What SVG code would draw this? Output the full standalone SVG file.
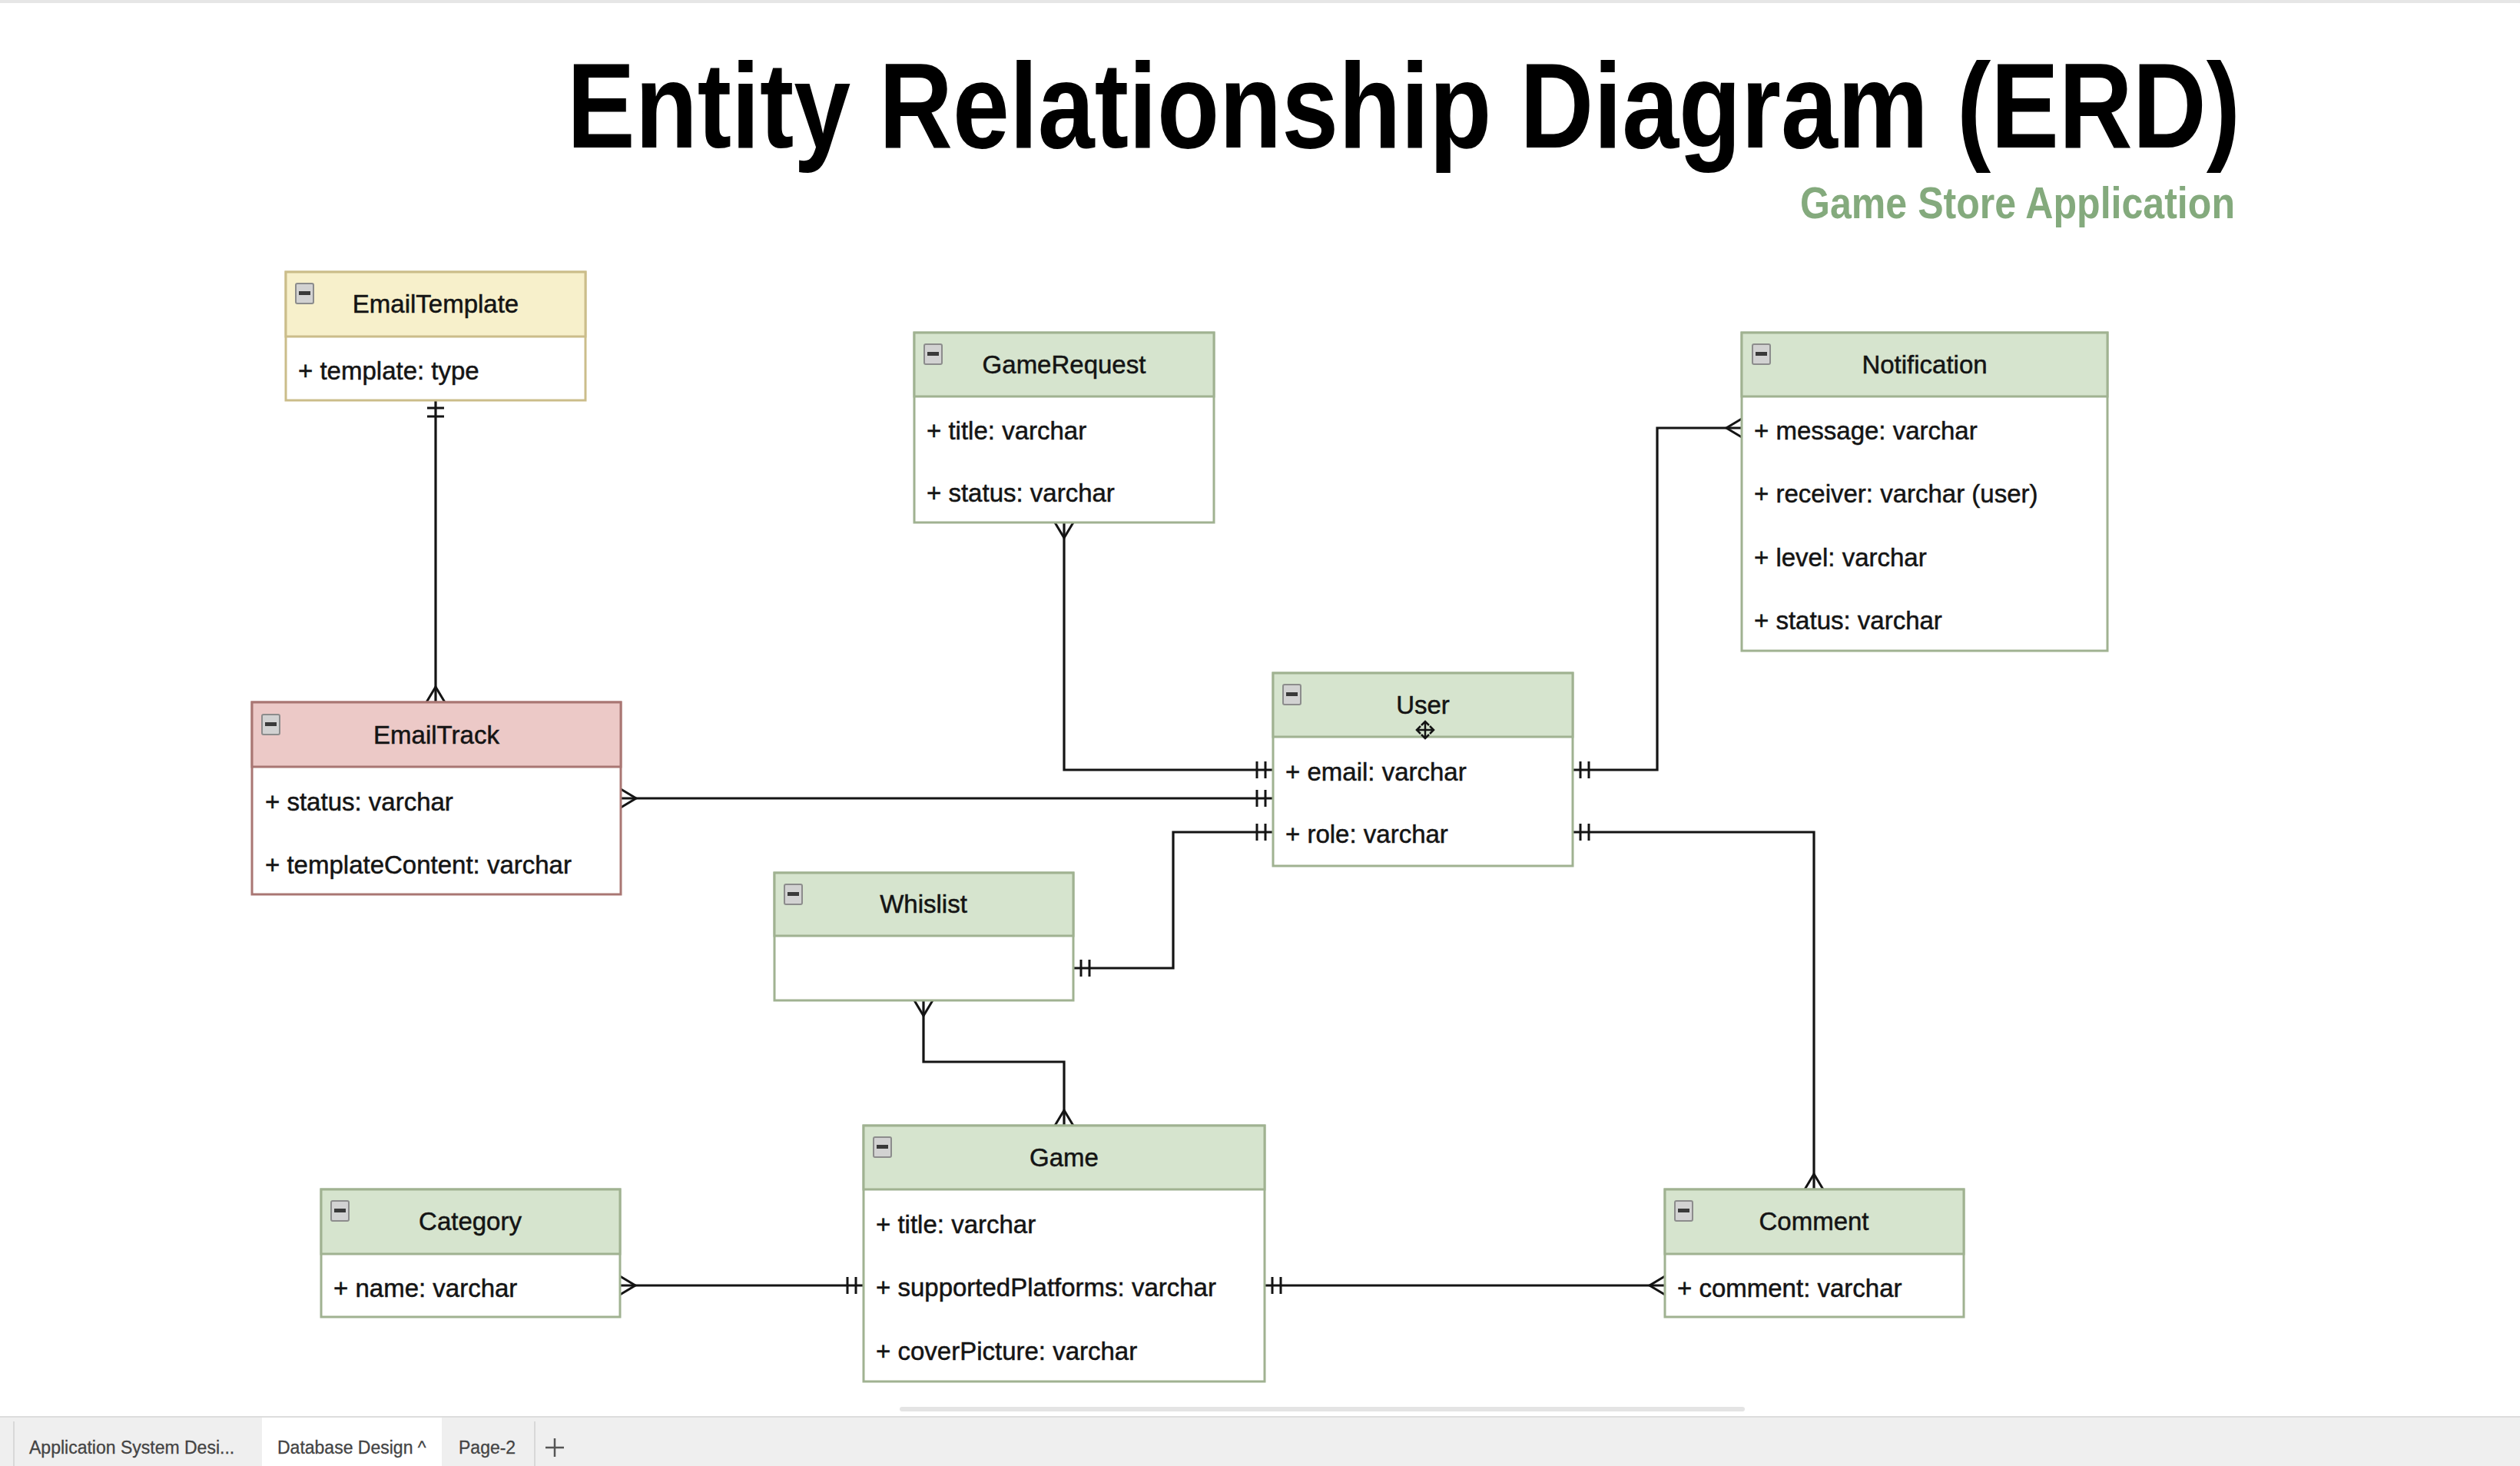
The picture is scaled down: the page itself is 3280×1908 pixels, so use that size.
<svg xmlns="http://www.w3.org/2000/svg" width="3280" height="1908" viewBox="0 0 3280 1908">
<style>
.t{font-family:"Liberation Sans",Arial,sans-serif;font-size:33px;fill:#141414;stroke:#141414;stroke-width:0.5}
.c{text-anchor:middle}
.body{fill:#ffffff;stroke-width:3}
.g{stroke:#a0b291}
.gh{fill:#d6e4ce;stroke:#a0b291;stroke-width:3}
.r{stroke:#a97673}
.rh{fill:#ecc9c7;stroke:#a97673;stroke-width:3}
.y{stroke:#cbbd8a}
.yh{fill:#f7f0cb;stroke:#cbbd8a;stroke-width:3}
.ic{fill:#d2d2d2;stroke:#8c8c8c;stroke-width:2}
.icb{fill:#3a3a3a}
.conn{fill:none;stroke:#141414;stroke-width:3.2}
.tab{font-family:"Liberation Sans",Arial,sans-serif;font-size:23px;fill:#444;stroke:#444;stroke-width:0.3}
</style>
<defs>
<marker id="one" markerUnits="userSpaceOnUse" viewBox="-30 -20 40 40" markerWidth="40" markerHeight="40" refX="0" refY="0" orient="auto-start-reverse">
<path d="M-10,-11 V11 M-21,-11 V11" fill="none" stroke="#141414" stroke-width="3"/>
</marker>
<marker id="many" markerUnits="userSpaceOnUse" viewBox="-30 -20 40 40" markerWidth="40" markerHeight="40" refX="0" refY="0" orient="auto-start-reverse">
<path d="M0,-12 L-20,0 L0,12" fill="none" stroke="#141414" stroke-width="3"/>
</marker>
</defs>
<rect x="0" y="0" width="3280" height="1908" fill="#ffffff"/>
<rect x="0" y="0" width="3280" height="4" fill="#e6e6e6"/>

<text x="738" y="192" style="font-family:'Liberation Sans',Arial,sans-serif;font-size:158px;font-weight:bold;fill:#000" textLength="2178" lengthAdjust="spacingAndGlyphs">Entity Relationship Diagram (ERD)</text>
<text x="2343" y="284" style="font-family:'Liberation Sans',Arial,sans-serif;font-size:58px;font-weight:bold;fill:#84aa7d" textLength="566" lengthAdjust="spacingAndGlyphs">Game Store Application</text>

<g id="connectors">
<path class="conn" d="M567,521 V914" marker-start="url(#one)" marker-end="url(#many)"/>
<path class="conn" d="M808,1039 H1657" marker-start="url(#many)" marker-end="url(#one)"/>
<path class="conn" d="M1385,680 V1002 H1657" marker-start="url(#many)" marker-end="url(#one)"/>
<path class="conn" d="M2047,1002 H2157 V557 H2267" marker-start="url(#one)" marker-end="url(#many)"/>
<path class="conn" d="M2047,1083 H2361 V1548" marker-start="url(#one)" marker-end="url(#many)"/>
<path class="conn" d="M1397,1260 H1527 V1083 H1657" marker-start="url(#one)" marker-end="url(#one)"/>
<path class="conn" d="M1202,1302 V1382 H1385 V1465" marker-start="url(#many)" marker-end="url(#many)"/>
<path class="conn" d="M807,1673 H1124" marker-start="url(#many)" marker-end="url(#one)"/>
<path class="conn" d="M1646,1673 H2167" marker-start="url(#one)" marker-end="url(#many)"/>
</g>

<g id="EmailTemplate">
<rect class="body y" x="372" y="354" width="390" height="167"/>
<rect class="yh" x="372" y="354" width="390" height="84"/>
<rect class="ic" x="385" y="369" width="23" height="26" rx="2"/><rect class="icb" x="389" y="379" width="15" height="5"/>
<text class="t c" x="567" y="407">EmailTemplate</text>
<text class="t" x="388" y="494">+ template: type</text>
</g>

<g id="GameRequest">
<rect class="body g" x="1190" y="433" width="390" height="247"/>
<rect class="gh" x="1190" y="433" width="390" height="83"/>
<rect class="ic" x="1203" y="448" width="23" height="26" rx="2"/><rect class="icb" x="1207" y="458" width="15" height="5"/>
<text class="t c" x="1385" y="486">GameRequest</text>
<text class="t" x="1206" y="572">+ title: varchar</text>
<text class="t" x="1206" y="653">+ status: varchar</text>
</g>

<g id="Notification">
<rect class="body g" x="2267" y="433" width="476" height="414"/>
<rect class="gh" x="2267" y="433" width="476" height="83"/>
<rect class="ic" x="2281" y="448" width="23" height="26" rx="2"/><rect class="icb" x="2285" y="458" width="15" height="5"/>
<text class="t c" x="2505" y="486">Notification</text>
<text class="t" x="2283" y="572">+ message: varchar</text>
<text class="t" x="2283" y="654">+ receiver: varchar (user)</text>
<text class="t" x="2283" y="737">+ level: varchar</text>
<text class="t" x="2283" y="819">+ status: varchar</text>
</g>

<g id="User">
<rect class="body g" x="1657" y="876" width="390" height="251"/>
<rect class="gh" x="1657" y="876" width="390" height="83"/>
<rect class="ic" x="1670" y="891" width="23" height="26" rx="2"/><rect class="icb" x="1674" y="901" width="15" height="5"/>
<text class="t c" x="1852" y="929">User</text>
<path d="M1845,950 H1865 M1855,940 V960 M1850,944 L1855,939 L1860,944 M1850,956 L1855,961 L1860,956 M1849,945 L1844,950 L1849,955 M1861,945 L1866,950 L1861,955" fill="none" stroke="#141414" stroke-width="2.5"/>
<text class="t" x="1673" y="1016">+ email: varchar</text>
<text class="t" x="1673" y="1097">+ role: varchar</text>
</g>

<g id="EmailTrack">
<rect class="body r" x="328" y="914" width="480" height="250"/>
<rect class="rh" x="328" y="914" width="480" height="84"/>
<rect class="ic" x="341" y="930" width="23" height="26" rx="2"/><rect class="icb" x="345" y="940" width="15" height="5"/>
<text class="t c" x="568" y="968">EmailTrack</text>
<text class="t" x="345" y="1055">+ status: varchar</text>
<text class="t" x="345" y="1137">+ templateContent: varchar</text>
</g>

<g id="Whislist">
<rect class="body g" x="1008" y="1136" width="389" height="166"/>
<rect class="gh" x="1008" y="1136" width="389" height="82"/>
<rect class="ic" x="1021" y="1151" width="23" height="26" rx="2"/><rect class="icb" x="1025" y="1161" width="15" height="5"/>
<text class="t c" x="1202" y="1188">Whislist</text>
</g>

<g id="Game">
<rect class="body g" x="1124" y="1465" width="522" height="333"/>
<rect class="gh" x="1124" y="1465" width="522" height="83"/>
<rect class="ic" x="1137" y="1480" width="23" height="26" rx="2"/><rect class="icb" x="1141" y="1490" width="15" height="5"/>
<text class="t c" x="1385" y="1518">Game</text>
<text class="t" x="1140" y="1605">+ title: varchar</text>
<text class="t" x="1140" y="1687">+ supportedPlatforms: varchar</text>
<text class="t" x="1140" y="1770">+ coverPicture: varchar</text>
</g>

<g id="Category">
<rect class="body g" x="418" y="1548" width="389" height="166"/>
<rect class="gh" x="418" y="1548" width="389" height="84"/>
<rect class="ic" x="431" y="1563" width="23" height="26" rx="2"/><rect class="icb" x="435" y="1573" width="15" height="5"/>
<text class="t c" x="612" y="1601">Category</text>
<text class="t" x="434" y="1688">+ name: varchar</text>
</g>

<g id="Comment">
<rect class="body g" x="2167" y="1548" width="389" height="166"/>
<rect class="gh" x="2167" y="1548" width="389" height="84"/>
<rect class="ic" x="2180" y="1563" width="23" height="26" rx="2"/><rect class="icb" x="2184" y="1573" width="15" height="5"/>
<text class="t c" x="2361" y="1601">Comment</text>
<text class="t" x="2183" y="1688">+ comment: varchar</text>
</g>

<rect x="1171" y="1831" width="1100" height="6" rx="3" fill="#e4e4e4"/>
<g id="tabbar">
<rect x="0" y="1844" width="3280" height="64" fill="#efefef"/>
<line x1="0" y1="1844" x2="3280" y2="1844" stroke="#dddddd" stroke-width="2"/>
<rect x="341" y="1845" width="234" height="63" fill="#ffffff"/>
<line x1="18" y1="1850" x2="18" y2="1908" stroke="#d8d8d8" stroke-width="2"/>
<line x1="696" y1="1850" x2="696" y2="1908" stroke="#d8d8d8" stroke-width="2"/>
<text class="tab" x="38" y="1892">Application System Desi...</text>
<text class="tab" x="361" y="1892">Database Design  ^</text>
<text class="tab" x="597" y="1892">Page-2</text>
<path d="M722,1872 V1896 M710,1884 H734" stroke="#555" stroke-width="2.5"/>
</g>
</svg>
